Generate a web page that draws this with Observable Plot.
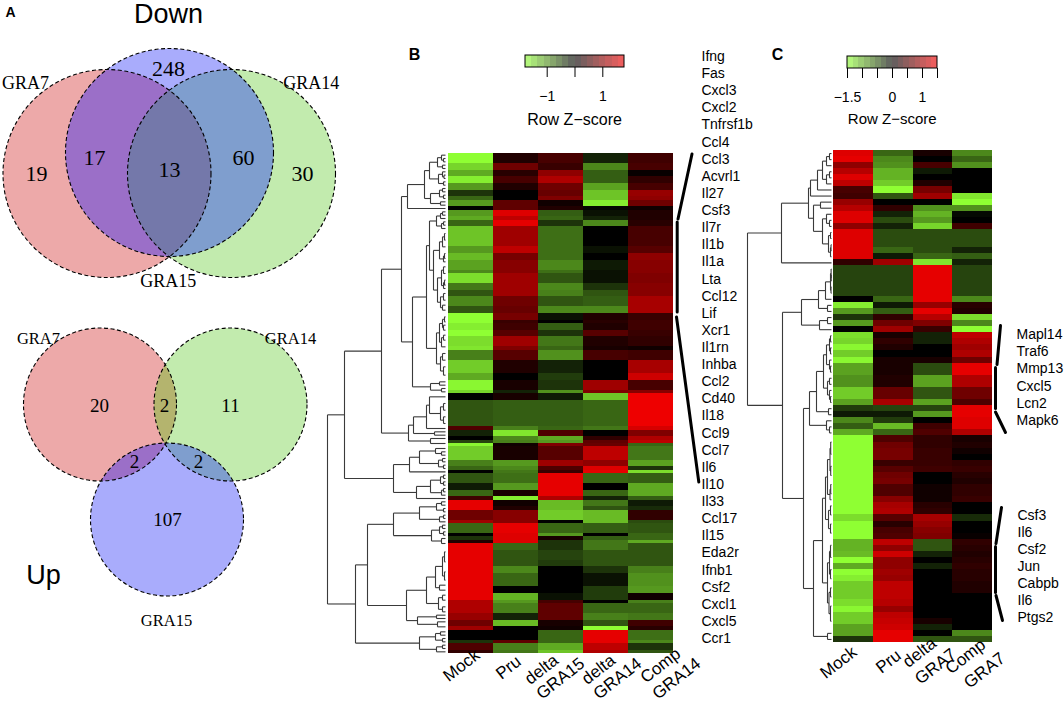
<!DOCTYPE html>
<html>
<head>
<meta charset="utf-8">
<script src="https://cdn.jsdelivr.net/npm/d3@7"></script>
<script src="https://cdn.jsdelivr.net/npm/@observablehq/plot@0.6"></script>
<style>
html,body{margin:0;padding:0;background:#fff}
#fig{position:relative;width:1064px;height:702px;overflow:hidden;background:#fff}
#fig svg{position:absolute;overflow:visible;background:transparent;max-width:none}
#fig svg.soft{filter:blur(.45px)}
</style>
</head>
<body>
<div id="fig"></div>
<script>
// ---------- values ----------
const vennDownCounts = {r:19, rb:17, rbg:13, bg:60, g:30, b:248};
const vennUpCounts = {r:20, rg:2, g:11, rb:2, bg:2, b:107};
const setNames = ["GRA7","GRA14","GRA15"];

const colsB = ["Mock","Pru","delta GRA15","delta GRA14","Comp GRA14"];
const colsC = ["Mock","Pru","delta GRA7","Comp GRA7"];

// [rows in the block, then one z-score per column]
const heatB = [
[3,-1.5,.2,.45,-.2,.4],[2,-1.25,.7,.35,-.8,.45],[2,-1,.25,.9,-.55,.05],[2,-1.4,.45,1.1,-.55,.3],
[2,-.9,.2,.7,-.95,.45],[2,-.3,0,.65,-1.15,.95],[1,-.6,0,.8,-1.15,.9],[2,-.9,.6,.1,-1.4,.7],
[1,0,.6,.2,-.05,.1],[2,-.9,1.4,-.55,-.1,.2],[1,-1,1.2,-.6,-.2,.2],[2,-.6,1.45,-.3,-.8,.25],
[6,-1.15,1,-.65,0,.45],[2,-.9,1.2,-.65,-.1,.55],[2,-1.1,.75,-.65,0,.9],[3,-.95,.85,-.8,-.15,.85],
[1,-.8,.85,-.65,-.1,.85],[3,-1.3,1,-.5,-.1,.8],[2,-.7,1,-.8,-.3,.85],[2,-.5,1,-.75,-.5,.85],
[3,-.8,.7,-.5,-.55,1.05],[2,-.5,.65,-.8,-.8,1.05],[2,-1.5,.75,-.1,.2,.35],[1,-1.5,.35,0,.25,.4],
[2,-1.4,.4,-.55,.2,.4],[2,-1.5,.55,-.3,.55,.35],[3,-1.3,1,-.7,.2,.3],[1,-1.35,.8,-.6,.15,.1],
[3,-.75,.55,-.85,.45,.4],[4,-1.2,.2,-.2,0,1.05],[2,-1,0,-.35,0,1.3],[3,-1.45,.15,-.3,1,.45],
[1,-1.25,-.2,-.85,.8,.85],[2,0,.15,-.15,-1.15,1.5],[8,-.5,-.55,-.55,-.6,1.5],[1,.5,-.75,-.6,-.7,1.35],
[2,-.2,-1.35,.5,0,.8],[1,0,-.8,-1,.3,1.1],[1,-.4,-.75,-.9,.6,1.2],[1,-1.45,.1,.8,.65,-.6],
[4,-1.2,.15,.55,1.2,-.7],[2,-.75,-.9,1,.9,-.95],[1,-.6,-.8,.5,1.4,-.3],[1,0,-.7,.35,1.45,-1.3],
[3,-.5,-.65,1.45,-.6,-.55],[2,-.15,-.9,1.45,0,-1],[2,-.6,.15,1.45,-.6,-1],[1,.4,-1.4,1.1,-.2,-.55],
[2,1.45,.1,-1.1,-.7,-.15],[1,1.45,.2,-1.1,-.5,-.25],[3,.7,.85,-1.2,-1.1,.3],[1,1,.85,0,-1.1,-.45],
[3,-.6,1.45,-.6,-.55,-.5],[1,0,1.4,-.9,0,-.6],[1,-.3,1.4,.15,-.55,-.6],[1,.2,1.4,-.3,-.7,-1],
[2,1.45,-.6,-.3,-.7,-.5],[3,1.45,-.5,-.4,-.5,-.5],[2,1.45,-.5,-.35,-.5,-.5],[2,1.45,-.8,0,-.3,-.75],
[4,1.45,-.6,0,-.1,-.85],[2,1.45,0,0,-.35,-.9],[2,1.45,-1.05,-.1,-.35,.1],[1,1.1,-.9,.45,0,-.75],
[3,1.1,-.75,.6,-.6,-.6],[2,.95,-.2,.6,-.75,-.7],[2,.7,-1.1,.15,-.5,.4],[1,1,0,.1,-1.5,.25],
[3,0,0,-.6,1.45,-.65],[1,-.3,.6,-.6,1.45,-.8],[2,.5,-.75,-1,1.2,-.3],[1,.3,-.7,-1.15,1.1,-.5]
];

const heatC = [
[1,1.4,-.6,.15,-.8],[1,1.45,-.8,0,-.6],[1,.9,-.85,.45,-.85],[1,1.15,-1.05,-.15,0],
[1,1.4,-1.05,0,0],[1,1.2,-1.2,.2,0],[1,.45,-1.5,.75,0],[1,.4,-.5,1,-1.35],
[1,.95,0,0,-1.5],[1,1.15,.3,-.85,-.85],[1,1.4,-.2,-1.05,-.05],[1,1.4,-.45,-.9,0],
[1,.9,-.2,-1.25,.4],[3,1.4,-.45,-.45,-.45],[1,1.4,-.6,-.45,-.2],[1,1.4,-.15,-.6,-.55],
[1,.3,1,-1.35,-.2],[5,-.4,-.4,1.45,-.4],[1,0,-.6,1.45,-.8],[1,-1.4,-.15,.95,.25],
[1,-.9,-.55,1.45,.2],[1,-.3,.3,1.15,-1.3],[1,-.9,.7,.8,-.8],[1,0,1,.35,-1.5],
[1,-1.3,.15,-.2,1.2],[1,-1.25,.3,-.2,1.1],[1,-1.45,.2,0,1],[1,-1.2,0,0,1.1],
[1,-1.45,.15,.15,.7],[2,-.95,.15,-.45,1.45],[2,-.85,.2,-.95,1.1],[2,-1.2,.65,-.5,.7],
[1,-.95,1.05,-.95,.5],[1,-.35,-.4,-.4,1.45],[1,-.15,-.15,-.9,1.45],[1,-.8,-.35,0,1.4],
[1,-.55,-1.1,.4,1.4],[1,-1,-.6,.5,1.1],[1,-1.5,.5,.3,.15],[1,-1.5,.7,.3,.2],
[1,-1.5,.75,.35,.1],[1,-1.5,.75,.35,0],[1,-1.5,.35,.35,.3],[1,-1.5,.55,.4,.35],
[1,-1.5,.7,0,.25],[1,-1.5,.75,0,.2],[1,-1.5,.5,.1,.3],[1,-1.5,.5,.1,.3],
[1,-1.5,.85,.1,.35],[1,-1.5,1.05,.25,0],[1,-1.5,1.1,.3,0],[1,-1.3,.55,1.05,-.25],
[1,-1.5,.25,.95,0],[1,-1.5,.45,.85,0],[1,-1.5,.5,.8,.05],[1,-1.05,1.2,-.5,.3],
[1,-1.05,.9,-.5,.25],[1,-1.1,1.3,-.2,.2],[1,-1.5,.9,0,.25],[1,-1,.9,-.2,.3],
[1,-1.5,1,0,.25],[1,-1.4,.95,0,.25],[1,-1.2,1.2,0,.2],[1,-1.2,1.2,0,.2],
[1,-1.2,1.2,0,0],[1,-1.3,1.15,0,0],[1,-1.45,.95,0,0],[1,-1.2,1.2,0,0],
[1,-1.2,1.25,.15,0],[1,-.95,1.3,-.2,0],[1,-.95,1.45,0,-.8],[1,-.3,1.45,-.5,-.5]
];

// dendrograms: [merge height, left branch, right branch]; a bare number is a leaf of that many rows
const treeB = [118,
  [101,
    [64,
      [44,
        [38,[21,[16,[8,[4,1,[2,1,1]],[3,1,1]],[7,[3,1,[1.5,1,1]],[2,1,1]]],[15,[6,[3,1,1],[2,1,1]],[5,1,1]]],1],
        [33,
          [19,
            [16,[9,[5,[3,1,1],1],[4,[2,1,1],1]],
                [12,[6,[3,[1,2,2],2],[2,[1,2,1],1]],[8,[4,[2,2,2],[2,[1,2,1],1]],[5,[2,2,2],[3,1,2]]]]],
            [9,[6,[3,[1,2,1],[2,1,2]],[4,[2,1,2],2]],[5,[3,2,2],[2,2,3]]]],
          [15,[6,1,1],[4,1,1]]]],
      [37,[32,[19,[16,2,[5,[2,2,2],[2,2,2]]],1],[11,1,1]],[15,1,2]]],
    [52,
      [36,[26,[10,1,[4,1,1]],[7,[3,1,1],[2,1,1]]],1],
      [29,[15,[5,[2,1,1],[2,1,1]],[4,[2,1,1],1]],1]]],
  [90,
    [78,
      [52,[26,[9,[4,1,1],[2,1,1]],[6,[2,1,1],1]],[14,[6,[3,1,1],[2,1,1]],[4,1,2]]],
      [39,[19,[10,[3,[1,3,3],[1,3,2]],[6,1,2]],[7,[3,1,2],[3,2,1]]],[28,[9,1,1],[8,1,2]]]],
    [26,[10,[5,1,1],[3,1,1]],[9,[3,1,1],1]]]];

const treeC = [84,
  [50,
    [23,
      [21,[14,[9,[5,[2,1,1],1],[5,[2,1,1],1]],1],1],
      [18,[11,1,1],[9,[5,1,[2,1,1]],[3,[1,1,1],[1,[.5,1,1],1]]]]],
    1],
  [49,
    [30,
      [13,[6,[1,[.4,1,[.3,1,1]],[.5,1,1]],1],[4,1,1]],
      [12,[4,1,1],1]],
    [28,
      [22,
        [15,[8,[5,[2,[1,1,1],[1,1,1]],[2,1,[1,1,1]]],[4,[2,1,1],[2,1,[1,1,1]]]],[3,1,1]],
        [5,1,[2,1,1]]],
      [18,
        [9,
          [6,[4,[1.5,[.8,2,2],[.8,2,1]],[1.5,[.8,2,1],1]],[3,[1,1,2],[1,1,2]]],
          [4,[2,[1,2,2],[1,2,1]],[2.5,[1,2,1],[1,2,3]]]],
        [4,1,1]]]]];

const genesB = ["Ifng","Fas","Cxcl3","Cxcl2","Tnfrsf1b","Ccl4","Ccl3","Acvrl1","Il27","Csf3","Il7r","Il1b","Il1a","Lta","Ccl12","Lif","Xcr1","Il1rn","Inhba","Ccl2","Cd40","Il18","Ccl9","Ccl7","Il6","Il10","Il33","Ccl17","Il15","Eda2r","Ifnb1","Csf2","Cxcl1","Cxcl5","Ccr1"];
const genesCtop = ["Mapl14","Traf6","Mmp13","Cxcl5","Lcn2","Mapk6"];
const genesCbottom = ["Csf3","Il6","Csf2","Jun","Cabpb","Il6","Ptgs2"];

const colLabelLinesB = [["Mock"],["Pru"],["delta","GRA15"],["delta","GRA14"],["Comp","GRA14"]];
const colLabelLinesC = [["Mock"],["Pru"],["delta","GRA7"],["Comp","GRA7"]];

const tickLabelsB = new Map([[-1,"\u22121"],[1,"1"]]);
const tickLabelsC = new Map([[-1.5,"\u22121.5"],[0,"0"],[1,"1"]]);

// ---------- layout (figure pixels) ----------
const SANS = "Liberation Sans", SERIF = "Liberation Serif";
const fig = document.getElementById("fig");
function place(svg,left,top){svg.style.left=left+"px";svg.style.top=top+"px";fig.appendChild(svg);return svg;}

const heatColor = {type:"linear",domain:[-1.5,0,1.5],range:["#8fff33","#000000","#ee0000"],interpolate:"rgb",clamp:true};

const layoutDown = {r:[106.5,173,104],b:[169,152,104],g:[231,173,104]};
const layoutUp = {r:[99.5,404,76.5],b:[166.5,519,76.5],g:[230,404,76.5]};
const fills = {r:"#eda9a9",g:"#c2ebae",b:"#a9acfc",rb:"#9b6fc8",bg:"#7f9ece",rg:"#b4b46e",rbg:"#7478aa"};

function circleMark(c,cls,opts){return Plot.dot([c],{x:d=>d[0],y:d=>d[1],r:c[2],className:cls,...opts});}
function vennMarks(p,L){
  const dash={fill:"none",stroke:"#000",strokeWidth:1.1,strokeDasharray:"4,2.5"};
  return [
    circleMark(L.r,p+"-r",{fill:fills.r}),
    circleMark(L.g,p+"-g",{fill:fills.g}),
    circleMark(L.b,p+"-b",{fill:fills.b}),
    circleMark(L.g,p+"-rg",{fill:fills.rg}),
    circleMark(L.b,p+"-rb",{fill:fills.rb}),
    circleMark(L.g,p+"-bg",{fill:fills.bg}),
    circleMark(L.g,p+"-rbg",{fill:fills.rbg}),
    circleMark(L.r,p+"-o",dash),circleMark(L.b,p+"-o",dash),circleMark(L.g,p+"-o",dash)
  ];
}
function vennClip(svg,p){
  const NS="http://www.w3.org/2000/svg";
  const defs=document.createElementNS(NS,"defs");svg.appendChild(defs);
  const mk=(id,src,parent)=>{
    const cp=document.createElementNS(NS,"clipPath");cp.setAttribute("id",id);
    const o=svg.querySelector("."+src+" circle");
    const c=document.createElementNS(NS,"circle");
    for(const a of ["cx","cy","r"])c.setAttribute(a,o.getAttribute(a));
    cp.appendChild(c);
    if(parent)cp.setAttribute("clip-path",`url(#${parent})`);
    defs.appendChild(cp);
  };
  mk(p+"c-r",p+"-r");mk(p+"c-b",p+"-b");mk(p+"c-g",p+"-g");
  mk(p+"c-rb",p+"-r",p+"c-b");
  const set=(cls,id)=>svg.querySelector("."+cls+" circle").setAttribute("clip-path",`url(#${id})`);
  set(p+"-rg",p+"c-r");set(p+"-rb",p+"c-r");set(p+"-bg",p+"c-b");set(p+"-rbg",p+"c-rb");
}

function label(items,opts){
  return Plot.text(items,{x:d=>d[0],y:d=>d[1],text:d=>d[2],fill:"#000",stroke:"none",...opts});
}
const bracketsB = [[[691.5,153.5],[677.5,218.5]],[[676.7,221.5],[676.7,311.5]],[[676,316.5],[698.3,481.5]]];
const bracketsC = [[[1000,325],[996.5,364]],[[995,367],[995,408]],[[995,411.5],[1005,432]],
                   [[1001,507],[995.5,543]],[[995,546],[995,592]],[[995.5,595],[1002,620]]];

// ---------- base figure: Venn diagrams, letters, titles, brackets ----------
const D=vennDownCounts,U=vennUpCounts;
const base = Plot.plot({
  width:1064,height:702,margin:0,
  x:{domain:[0,1064],range:[0,1064],axis:null},
  y:{domain:[0,702],range:[0,702],axis:null},
  marks:[
    ...vennMarks("vd",layoutDown),
    ...vennMarks("vu",layoutUp),
    label([[36,173,D.r],[94,157,D.rb],[169,169,D.rbg],[243,157,D.bg],[302,173,D.g],[168,68,D.b]],{fontFamily:SERIF,fontSize:22}),
    label([[25,83,setNames[0]],[310.7,83,setNames[1]],[167.7,281,setNames[2]]],{fontFamily:SERIF,fontSize:18}),
    label([[99,405,U.r],[164,405,U.rg],[230,405,U.g],[134,461,U.rb],[198,461,U.bg],[167,519,U.b]],{fontFamily:SERIF,fontSize:19}),
    label([[38,338,setNames[0]],[290,338,setNames[1]],[166,620,setNames[2]]],{fontFamily:SERIF,fontSize:16.5}),
    label([[168,14,"Down"],[43,575,"Up"]],{fontFamily:SANS,fontSize:27}),
    label([[10,12,"A"]],{fontFamily:SANS,fontSize:14,fontWeight:"bold"}),
    label([[414,54,"B"],[777,54,"C"]],{fontFamily:SANS,fontSize:16,fontWeight:"bold"}),
    label([[574,119,"Row Z\u2212score"]],{fontFamily:SANS,fontSize:16}),
    label([[891.7,119,"Row Z\u2212score"]],{fontFamily:SANS,fontSize:15}),
    ...[...bracketsB,...bracketsC].map(seg=>Plot.line(seg,{x:d=>d[0],y:d=>d[1],stroke:"#000",strokeWidth:3}))
  ]
});
place(base,0,0);
vennClip(base,"vd");vennClip(base,"vu");

// ---------- heatmaps ----------
function expand(table,cols){
  const out=[];let row=0;
  for(const [span,...vals] of table){
    for(let k=0;k<span;k++,row++) cols.forEach((c,j)=>out.push({row,col:c,z:vals[j]}));
  }
  return {cells:out,n:row};
}
function heat(table,cols,left,top,w,h){
  const {cells,n}=expand(table,cols);
  const svg=Plot.plot({
    width:w,height:h,margin:0,
    x:{type:"band",domain:cols,axis:null,padding:0,round:false},
    y:{type:"band",domain:d3.range(n),axis:null,padding:0,round:false},
    color:heatColor,
    marks:[Plot.cell(cells,{x:"col",y:"row",fill:"z",shapeRendering:"crispEdges"})]
  });
  place(svg,left,top).classList.add("soft");
  return n;
}
const nB=heat(heatB,colsB,448,153,225,500);
const nC=heat(heatC,colsC,833,150,159,492);

// ---------- dendrograms ----------
function dendroSegments(tree){
  const segs=[];let start=0;
  function walk(node){
    if(typeof node==="number"){const y=start+node/2;start+=node;return {h:0,y};}
    const [h,a,b]=node;
    const A=walk(a),B=walk(b);
    segs.push({x1:h,y1:A.y,x2:h,y2:B.y});
    segs.push({x1:h,y1:A.y,x2:A.h,y2:A.y});
    segs.push({x1:h,y1:B.y,x2:B.h,y2:B.y});
    return {h,y:(A.y+B.y)/2};
  }
  walk(tree);
  return segs;
}
function dendro(tree,n,left,top,w,h){
  place(Plot.plot({
    width:w,height:h,margin:0,
    x:{domain:[w,0],axis:null},
    y:{domain:[0,n],range:[0,h],axis:null},
    marks:[Plot.link(dendroSegments(tree),{x1:"x1",y1:"y1",x2:"x2",y2:"y2",stroke:"#3a3a3a",strokeWidth:1.1})]
  }),left,top);
}
dendro(treeB,nB,320,153,125,500);
dendro(treeC,nC,741,150,90,492);

// ---------- colour keys ----------
function key(left,top,w,xDomain,ticks,fmt,bins){
  const [a,b]=xDomain;
  const edges=d3.range(bins+1).map(i=>a+(b-a)*i/bins);
  const rects=d3.range(bins).map(i=>({x1:edges[i],x2:edges[i+1],z:(edges[i]+edges[i+1])/2}));
  place(Plot.plot({
    width:w,height:60,marginLeft:0,marginRight:0,marginTop:0,marginBottom:48,
    style:{fontFamily:SANS,fontSize:"14px",color:"#000"},
    x:{domain:xDomain},
    y:{domain:[0,1],axis:null},
    color:{...heatColor,domain:[a,0,b]},
    marks:[
      Plot.rect(rects,{x1:"x1",x2:"x2",y1:0,y2:1,fill:"z",fillOpacity:.63,shapeRendering:"crispEdges"}),
      Plot.rect([0],{x1:a,x2:b,y1:0,y2:1,stroke:"#000",strokeWidth:1,fill:"none"}),
      Plot.axisX({ticks,tickSize:10,tickPadding:14,tickFormat:d=>fmt.get(d)??"",fontSize:14,stroke:"#000",fontFamily:SANS})
    ]
  }),left,top);
}
key(525,55,99,[-1.78,1.78],[-1,0,1],tickLabelsB,16);
key(846.7,55.5,90,[-1.5,1.5],[-1.5,-1,-.5,0,.5,1,1.5],tickLabelsC,16);

// ---------- gene labels ----------
function geneLabels(list,left,y0,y1){
  place(Plot.plot({
    width:70,height:y1-y0+20,margin:0,marginTop:10,marginBottom:10,
    y:{type:"point",domain:d3.range(list.length),axis:null,padding:0,round:false},
    marks:[Plot.text(list,{y:(d,i)=>i,frameAnchor:"left",textAnchor:"start",fontFamily:SANS,fontSize:14,fill:"#000"})]
  }),left,y0-10);
}
geneLabels(genesB,701,56,638);
geneLabels(genesCtop,1016,334,420);
geneLabels(genesCbottom,1017,515,617);

// ---------- column labels ----------
function colLabels(cols,lines,centres,left,w,top){
  const band=w/cols.length;
  const marks=[];
  cols.forEach((c,i)=>lines[i].forEach((t,j)=>{
    const [cx,cy]=centres[i][j];
    marks.push(Plot.text([t],{x:()=>c,frameAnchor:"top",lineAnchor:"middle",dx:cx-(left+band*(i+.5)),dy:cy-top-4,rotate:-38,fontFamily:SANS,fontSize:17,fill:"#000"}));
  }));
  place(Plot.plot({
    width:w,height:60,margin:0,
    x:{type:"band",domain:cols,axis:null,padding:0,round:false},
    marks
  }),left,top);
}
colLabels(colsB,colLabelLinesB,[[[461,669]],[[508,671]],[[541,673],[560,682]],[[598,673],[617,682]],[[660,669],[676,682]]],448,225,640);
colLabels(colsC,colLabelLinesC,[[[838,666]],[[888,665]],[[919,656],[935,670]],[[965,660],[984,674]]],833,159,640);
</script>
</body>
</html>
